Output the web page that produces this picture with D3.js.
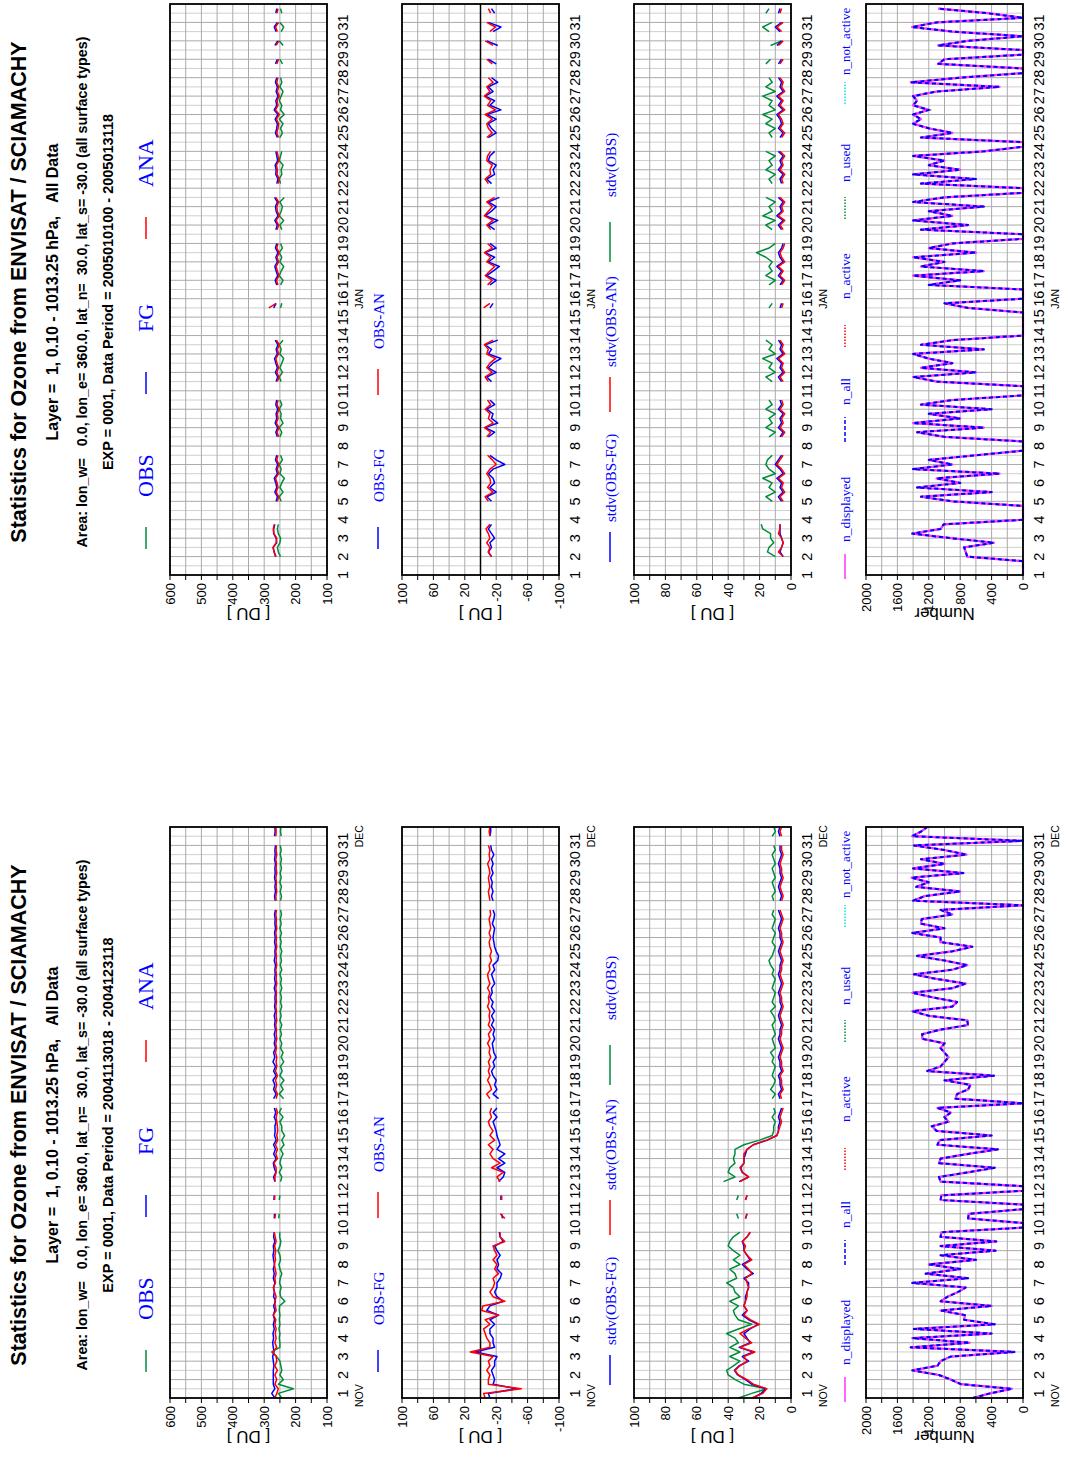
<!DOCTYPE html>
<html lang="en">
<head>
<meta charset="UTF-8">
<title>Statistics for Ozone from ENVISAT / SCIAMACHY</title>
<script src="https://d3js.org/d3.v7.min.js"></script>
<style>
  html, body { margin: 0; padding: 0; background: #fff; }
  svg text { font-family: 'Liberation Sans', Arial, sans-serif; white-space: pre; }
  svg text.serif { font-family: 'Liberation Serif', 'Times New Roman', serif; }
</style>
</head>
<body>
<div id="chart"></div>
<script>
var _ = null;   // missing 6-hourly step

// ---------- NOV/DEC 2004 page, 6-hourly 2004113018 .. 2004123118 (125 steps) ----------
var novObs = [244,255,207,255,239,250,244,247,250,260, 276,250,250,252,250,253,250,252,250,252,
  251,234,248,250,246,251,249,244,250,253, 248,250,256,250,247,251,250,_,_,254,
  252,_,_,252,250,_,_,248,244,252, 244,250,247,240,248,237,244,235,244,244,
  250,240,252,245,_,238,252,240,248,237, 250,243,248,238,246,240,248,244,250,245,
  249,244,250,246,249,244,248,245,249,244, 248,245,250,244,249,245,248,244,249,246,
  249,245,250,246,249,245,248,_,248,245, 249,245,250,246,249,245,248,245,249,246,
  249,_,246,248,247];
var novFg = [266,276,266,271,271,271,271,269,271,273, 269,271,273,270,272,268,271,267,271,266,
  270,264,270,268,270,266,271,268,271,267, 270,272,269,271,266,270,268,_,_,268,
  267,_,_,269,268,_,_,266,270,263, 268,271,262,270,264,270,262,267,265,266,
  262,268,263,268,_,270,262,270,266,272, 262,270,264,272,266,270,264,268,265,268,
  264,267,265,268,264,267,265,266,264,268, 264,267,265,266,264,268,265,266,264,267,
  265,267,264,266,265,267,264,_,265,267, 264,266,264,267,265,266,264,267,265,266,
  264,_,267,265,266];
var novAna = [266,260,255,266,260,266,258,266,260,262, 273,260,266,262,265,262,266,263,271,262,
  265,266,262,267,271,264,266,262,265,268, 264,266,263,267,262,265,268,_,_,266,
  264,_,_,267,266,_,_,265,266,262, 262,269,258,263,258,264,257,260,257,258,
  260,262,258,262,_,262,258,264,260,264, 258,264,260,262,260,264,261,263,260,262,
  261,263,260,262,261,263,261,262,261,263, 260,262,261,263,260,262,261,263,260,262,
  261,263,260,262,261,263,261,_,262,263, 260,262,261,263,260,262,261,263,260,262,
  261,_,263,262,263];
var novObsFg = [-12,-10,-46,-16,-18,-16,-14,-18,-18,-21, 7,-18,-16,-16,-12,-12,-18,-12,-23,-8,
  -12,-29,-21,-18,-21,-21,-25,-27,-21,-23, -21,-25,-21,-18,-29,-25,-24,_,_,-28,
  -27,_,_,-26,-26,_,_,-23,-29,-31, -21,-31,-23,-31,-21,-25,-23,-21,-20,-18,
  -16,-21,-16,-21,_,-23,-16,-21,-18,-20, -16,-14,-18,-16,-20,-17,-16,-15,-18,-16,
  -18,-14,-17,-14,-18,-14,-16,-12,-15,-14, -18,-16,-14,-18,-16,-22,-23,-20,-18,-17,
  -16,-17,-18,-15,-17,-18,-16,_,-16,-14, -16,-14,-15,-13,-16,-14,-16,-14,-17,-14,
  -13,_,-12,-13,-13];
var novObsAn = [-6,-4,-52,-10,-10,-12,-8,-12,-10,-16, 13,-12,-12,-8,-6,-4,-12,-6,-23,-1.5,
  -3,-31,-16,-12,-16,-18,-16,-23,-18,-21, -16,-21,-18,-16,-31,-25,-25,_,_,-31,
  -25,_,_,-27,-27,_,_,-25,-21,-29, -14,-25,-16,-12,-16,-10,-18,-12,-16,-12,
  -10,-14,-12,-14,_,-12,-8,-14,-12,-9, -12,-10,-12,-10,-13,-11,-12,-9,-12,-10,
  -14,-10,-12,-11,-12,-9,-11,-10,-12,-9, -12,-10,-9,-12,-11,-14,-12,-14,-12,-11,
  -13,-11,-13,-12,-11,-13,-12,_,-12,-11, -10,-12,-11,-10,-12,-11,-9,-12,-11,-12,
  -10,_,-12,-11,-12];
var novSdObsFg = [24,19,16,25,29,34,36,33,27,31, 24,33,26,28,30,26,21,27,31,28,
  30,29,29,28,27,27,30,24,28,31, 26,28,30,30,31,28,26,_,_,29,
  28,_,_,29,28,_,_,33,27,31, 32,30,30,29,28,24,15,9,8,8,
  7,8,7,6,_,7,8,6,7,7, 8,6,7,7,8,7,6,7,8,7,
  7,6,7,8,7,6,7,7,8,7, 6,7,8,7,7,6,7,8,7,6,
  7,7,8,7,6,7,8,_,7,6, 7,8,7,6,7,7,8,7,6,7,
  7,_,7,8,7];
var novSdObsAn = [25,18,15.5,24,28,33.5,35.7,32.5,28,30, 23,32.5,25,29,32.5,27,20,26,30,28,
  30,29,28,28,27,28,29,25,27,30, 25,28,30,29,31,28,26,_,_,29,
  28,_,_,29,28,_,_,32.5,27,31, 32.5,30,30,30,28,24,15.5,9,8,7,
  6,7,6,5,_,6,7,5,6,6, 7,5,6,6,7,6,5,6,7,6,
  6,5,6,7,6,5,6,6,7,6, 5,6,7,6,6,5,6,7,6,5,
  6,6,7,6,5,6,7,_,6,5, 6,7,6,5,6,6,7,6,5,6,
  6,_,6,7,6];
var novSdObs = [33.5,25,15.5,30,35.6,40,41,36.7,32.5,39, 32.5,39,33.5,35.7,41,33.5,25,33.5,35.7,36.7,
  33.5,39,32.5,35.7,36.7,41,34.6,35.7,39,32.5, 36.7,32.5,36.7,40,39,36.7,32.5,_,_,33.5,
  34.6,_,_,34.6,33.5,_,_,43,35.7,40, 39,35.7,36.7,35.7,35.7,30,20,12,11,11,
  10,12,10,11,_,12,10,13,11,10, 12,11,10,12,11,13,10,11,12,10,
  11,12,10,11,13,10,12,11,10,12, 11,10,12,11,13,14,12,11,10,12,
  11,10,12,11,10,12,11,_,11,12, 10,11,12,10,11,12,10,11,12,10,
  11,_,12,10,11];
var novCount = [640,420,140,790,920,1070,1410,1090,1050,920, 110,1430,680,1410,400,1390,360,750,740,1050,
  400,1050,960,830,730,1410,700,1240,800,1200, 600,1050,350,1050,340,1050,1040,0,0,700,
  690,0,0,1050,1040,0,0,1050,1070,700, 360,1070,1050,700,320,1090,1060,400,1100,1160,
  950,1000,920,1090,0,860,840,700,670,1000, 370,1220,1050,1000,950,1000,1050,1000,1280,1285,
  1050,700,710,1200,1410,900,840,1150,1410,900, 730,1100,1390,900,710,1000,1350,900,645,1050,
  1050,1410,1000,1300,1290,900,1050,0,1400,1250, 800,1360,1200,1420,760,1400,1000,1300,720,1000,
  1390,0,1413,1300,1220];

// ---------- JAN 2005 page, 6-hourly 2005010100 .. 2005013118 (124 steps) ----------
var janObs = [_,_,_,_, 248,255,258,250,248,255,258,255, _,_,_,_,
  246,252,240,250,244,236,250,246,252,242,248, _,_,_, 250,244,252,240,248,246,252,244,250, _,_,_,
  246,252,242,250,244,238,250,246,252,240, _,_,_,_,_,_, 248,244, _,_,_,
  248,240,252,246,238,250,244,252,242,248, _,_, 244,250,238,252,246,242,250,236, _,_,
  248,252,244,246,240,252,248,244, _,_, 250,242,248,240,252,236,248,244,252,246,240,250,244,248,
  _,_, 242,250, _,_, 240,252, _, 246,238,250, _, 244,248];
var janFg = [_,_,_,_, 264,268,272,260,262,270,270,266, _,_,_,_,
  262,258,266,260,263,268,258,262,257,264,260, _,_,_, 258,263,257,265,260,262,257,263,260, _,_,_,
  262,257,264,258,263,267,258,262,256,265, _,_,_,_,_,_, 270,262, _,_,_,
  260,265,257,262,266,258,263,256,264,260, _,_, 263,258,266,256,262,264,258,267, _,_,
  260,256,263,262,265,257,260,263, _,_, 258,264,260,258,265,256,268,260,263,256,262,258,264,260,
  _,_, 264,258, _,_, 266,257, _, 262,268,258, _, 263,260];
var janAna = [_,_,_,_, 262,269,271,262,260,269,271,268, _,_,_,_,
  258,254,262,256,259,264,254,258,253,260,256, _,_,_, 254,259,253,261,256,258,253,259,256, _,_,_,
  258,253,260,254,259,263,254,258,252,261, _,_,_,_,_,_, 285,262, _,_,_,
  256,261,253,258,262,254,259,252,260,256, _,_, 259,254,262,252,258,260,254,263, _,_,
  256,252,259,258,261,253,256,259, _,_, 254,260,256,254,261,252,264,256,259,252,258,254,260,256,
  _,_, 260,254, _,_, 262,253, _, 258,264,254, _, 259,256];
var janObsFg = [_,_,_,_, -14,-10,-14,-12,-18,-14,-10,-14, _,_,_,_,
  -14,-8,-20,-12,-18,-16,-10,-16,-31,-20,-12, _,_,_, -10,-18,-6,-22,-14,-16,-8,-18,-12, _,_,_,
  -14,-8,-20,-10,-16,-26,-10,-14,-6,-22, _,_,_,_,_,_, -12,-16, _,_,_,
  -12,-20,-8,-16,-24,-10,-18,-6,-20,-12, _,_, -18,-10,-22,-6,-14,-20,-10,-24, _,_,
  -14,-8,-18,-16,-20,-10,-12,-18, _,_, -10,-20,-14,-10,-20,-8,-26,-12,-18,-6,-16,-10,-22,-14,
  _,_, -20,-10, _,_, -22,-8, _, -16,-26,-10, _, -18,-14];
var janObsAn = [_,_,_,_, -14,-10,-12,-8,-12,-10,-7,-12, _,_,_,_,
  -10,-6,-16,-9,-13,-12,-8,-12,-20,-15,-9, _,_,_, -8,-13,-5,-16,-10,-12,-6,-13,-9, _,_,_,
  -10,-6,-15,-8,-12,-19,-8,-10,-5,-16, _,_,_,_,_,_, -4,-12, _,_,_,
  -9,-15,-6,-12,-18,-8,-13,-5,-15,-9, _,_, -13,-8,-16,-5,-10,-15,-8,-18, _,_,
  -10,-6,-13,-12,-15,-8,-9,-13, _,_, -8,-15,-10,-8,-15,-6,-19,-9,-13,-5,-12,-8,-16,-10,
  _,_, -15,-8, _,_, -16,-6, _, -12,-19,-8, _, -13,-10];
var janSdObsFg = [_,_,_,_, 5,7,6,5,6,7,7,7, _,_,_,_,
  6,8,5,7,6,9,5,7,10,8,6, _,_,_, 7,5,8,6,7,5,8,6,7, _,_,_,
  6,8,5,7,6,9,5,7,6,8, _,_,_,_,_,_, 7,6, _,_,_,
  7,5,8,6,9,5,7,8,6,5, _,_, 6,8,5,9,6,7,5,8, _,_,
  6,7,5,8,6,7,5,8, _,_, 7,5,8,6,7,9,5,8,6,9,5,7,6,8,
  _,_, 8,6, _,_, 9,6, _, 7,10,6, _, 8,7];
var janSdObsAn = [_,_,_,_, 5,8,6,5,6,8,7,7, _,_,_,_,
  5,7,4,6,5,8,4,6,9,7,5, _,_,_, 6,4,7,5,6,4,7,5,6, _,_,_,
  5,7,4,6,5,8,4,6,5,7, _,_,_,_,_,_, 6,5, _,_,_,
  6,4,7,5,8,4,6,7,5,4, _,_, 5,7,4,8,5,6,4,7, _,_,
  5,6,4,7,5,6,4,7, _,_, 6,4,7,5,6,8,4,7,5,8,4,6,5,7,
  _,_, 7,5, _,_, 8,5, _, 6,9,5, _, 7,6];
var janSdObs = [_,_,_,_, 10,15,14,11,13,13,18,19, _,_,_,_,
  12,16,10,14,12,18,10,14,16,15,12, _,_,_, 14,10,16,12,14,10,16,12,14, _,_,_,
  12,16,10,14,12,18,10,14,12,16, _,_,_,_,_,_, 14,12, _,_,_,
  14,10,16,12,14,12,16,22,14,10, _,_, 12,16,10,18,12,14,10,16, _,_,
  12,14,10,16,12,14,10,16, _,_, 12,14,10,16,12,18,10,14,12,18,10,16,12,14,
  _,_, 16,13, _,_, 13,6, _, 14,18,12, _, 16,14];
var janCount = [0,0,0,0, 710,730,750,370,920,1410,1050,1010, 0,0,0,0,
  900,1300,400,1350,800,1100,300,1400,900,1200,600, 0,0,0, 1000,1350,500,1400,800,1200,400,1300,900, 0,0,0,
  1100,1400,600,1300,900,1200,1400,500,1300,900, 0,0,0,0,0,0, 700,1000, 0,0,0,
  1200,800,1400,500,1300,1000,1400,600,1200,900, 0,0, 1300,700,1400,900,1200,500,1400,1000, 0,0,
  1300,600,1400,800,1200,1000,1400,500, 0,0, 1300,900,1200,1400,1300,1400,1200,1400,1350,1400,1100,300,1430,800,
  0,0, 1080,1000, 0,0, 1080,700, 0, 900,1414,1100, 0, 450,1080];

// ---------- axes ----------
var dayLabels = d3.range(1, 32);
var panelRanges = [[100, 600], [-100, 100], [0, 100], [0, 2000]];
var panelTicks = [[100, 200, 300, 400, 500, 600], [-100, -60, -20, 20, 60, 100],
                  [0, 20, 40, 60, 80, 100], [0, 400, 800, 1200, 1600, 2000]];
var panelGrid = [50, 20, 10, 200];
var panelUnits = ['[ DU ]', '[ DU ]', '[ DU ]', 'Number'];

var pages = [
  { off: 0, dayIndex: function(d) { return 4 * d - 3; },
    months: [['NOV', 0.5], ['DEC', 122]],
    period: 'EXP = 0001, Data Period = 2004113018 - 2004123118',
    series: [[novObs, novFg, novAna], [novObsFg, novObsAn], [novSdObs, novSdObsFg, novSdObsAn], [novCount]] },
  { off: 823, dayIndex: function(d) { return 4 * (d - 1); },
    months: [['JAN', 60]],
    period: 'EXP = 0001, Data Period = 2005010100 - 2005013118',
    series: [[janObs, janFg, janAna], [janObsFg, janObsAn], [janSdObs, janSdObsFg, janSdObsAn], [janCount]] }
];

var GREEN = '#008c3c', BLUE = '#0000ff', RED = '#ff0000', MAGENTA = '#ff33ff', CYAN = '#00e5e5';
var panelStyles = [
  [{c: GREEN}, {c: BLUE}, {c: RED}],
  [{c: BLUE}, {c: RED}],
  [{c: GREEN}, {c: BLUE}, {c: RED}]
];

var W = 1068, H = 1457;
var svg = d3.select('#chart').append('svg').attr('width', W).attr('height', H);

// the plot sheet is laid out in landscape and then turned a quarter to the left
var sheet = svg.append('g').attr('transform', 'translate(0,' + H + ') rotate(-90)');

var panelTop = 170, panelStep = 232, panelH = 157;

function legendLine(g, u0, u1, v, color, dash) {
  g.append('line').attr('x1', u0).attr('x2', u1).attr('y1', v).attr('y2', v)
    .attr('stroke', color).attr('stroke-width', 1.5)
    .attr('stroke-dasharray', dash || null);
}
function legendText(g, u, v, txt, size) {
  g.append('text').attr('class', 'serif').attr('x', u).attr('y', v)
    .attr('font-size', size).attr('fill', BLUE).text(txt);
}

function drawPage(pg) {
  var o = pg.off;
  var g = sheet.append('g');
  var x = d3.scaleLinear().domain([0, 124]).range([o + 59, o + 630]);

  // headings
  var mid = o + 342;
  g.append('text').attr('x', mid).attr('y', 26).attr('text-anchor', 'middle')
    .attr('font-size', 21.5).attr('font-weight', 'bold')
    .text('Statistics for Ozone from ENVISAT / SCIAMACHY');
  g.append('text').attr('x', mid).attr('y', 58).attr('text-anchor', 'middle')
    .attr('font-size', 16).attr('font-weight', 'bold')
    .text('Layer =  1, 0.10 - 1013.25 hPa,   All Data');
  g.append('text').attr('x', mid).attr('y', 87).attr('text-anchor', 'middle')
    .attr('font-size', 14.3).attr('font-weight', 'bold')
    .text('Area: lon_w=   0.0, lon_e= 360.0, lat_n=  30.0, lat_s= -30.0 (all surface types)');
  g.append('text').attr('x', mid).attr('y', 113).attr('text-anchor', 'middle')
    .attr('font-size', 14.5).attr('font-weight', 'bold')
    .text(pg.period);

  // legends
  legendLine(g, o + 85, o + 107, 146, GREEN);
  legendText(g, o + 137, 153, 'OBS', 22);
  legendLine(g, o + 240, o + 262, 146, BLUE);
  legendText(g, o + 302, 153, 'FG', 22);
  legendLine(g, o + 395, o + 417, 146, RED);
  legendText(g, o + 447, 153, 'ANA', 22);

  legendLine(g, o + 85, o + 107, 378, BLUE);
  legendText(g, o + 132, 384, 'OBS-FG', 15);
  legendLine(g, o + 239, o + 265, 378, RED);
  legendText(g, o + 285, 384, 'OBS-AN', 15);

  legendLine(g, o + 72, o + 102, 610, BLUE);
  legendText(g, o + 112, 616, 'stdv(OBS-FG)', 15);
  legendLine(g, o + 222, o + 257, 610, RED);
  legendText(g, o + 267, 616, 'stdv(OBS-AN)', 15);
  legendLine(g, o + 372, o + 412, 610, GREEN);
  legendText(g, o + 437, 616, 'stdv(OBS)', 15);

  legendLine(g, o + 55, o + 80, 845, MAGENTA);
  legendText(g, o + 92, 850, 'n_displayed', 13.5);
  legendLine(g, o + 192, o + 217, 845, BLUE, '4,2');
  legendText(g, o + 229, 850, 'n_all', 13.5);
  legendLine(g, o + 287, o + 309, 845, RED, '1.5,1.5');
  legendText(g, o + 335, 850, 'n_active', 13.5);
  legendLine(g, o + 415, o + 437, 845, GREEN, '1.5,1.5');
  legendText(g, o + 452, 850, 'n_used', 13.5);
  legendLine(g, o + 530, o + 552, 845, CYAN, '1.5,1.5');
  legendText(g, o + 559, 850, 'n_not_active', 13);

  panelRanges.forEach(function(dom, k) {
    var top = panelTop + panelStep * k;
    var y = d3.scaleLinear().domain(dom).range([top + panelH, top]);
    var p = g.append('g');

    // time grid, every 12 hours
    p.selectAll('.tgrid').data(d3.range(2, 124, 2)).join('line')
      .attr('x1', function(i) { return x(i); }).attr('x2', function(i) { return x(i); })
      .attr('y1', top).attr('y2', top + panelH)
      .attr('stroke', function(i) { return i % 4 === 0 ? '#aaaaaa' : '#cfcfcf'; })
      .attr('stroke-width', 1);

    // value grid
    var gv = d3.range(dom[0], dom[1] + 0.001, panelGrid[k]);
    p.selectAll('.vgrid').data(gv).join('line')
      .attr('x1', x(0)).attr('x2', x(124))
      .attr('y1', function(d) { return y(d); }).attr('y2', function(d) { return y(d); })
      .attr('stroke', '#aaaaaa').attr('stroke-width', 1);

    if (k === 1) {
      p.append('line').attr('x1', x(0)).attr('x2', x(124))
        .attr('y1', y(0)).attr('y2', y(0)).attr('stroke', '#000').attr('stroke-width', 1.5);
    }

    var line = d3.line()
      .defined(function(d) { return d !== null; })
      .x(function(d, i) { return x(i); })
      .y(function(d) { return y(d); });

    if (k < 3) {
      pg.series[k].forEach(function(s, j) {
        p.append('path').attr('d', line(s)).attr('fill', 'none')
          .attr('stroke', panelStyles[k][j].c).attr('stroke-width', 1.5)
          .attr('stroke-linejoin', 'round');
      });
    } else {
      var cnt = pg.series[3][0];
      var zeros = cnt.map(function() { return 0; });
      p.append('path').attr('d', line(zeros)).attr('fill', 'none')
        .attr('stroke', CYAN).attr('stroke-width', 1.5).attr('stroke-dasharray', '1.5,1.5');
      p.append('path').attr('d', line(cnt)).attr('fill', 'none')
        .attr('stroke', GREEN).attr('stroke-width', 2).attr('stroke-dasharray', '1.5,1.5');
      p.append('path').attr('d', line(cnt)).attr('fill', 'none')
        .attr('stroke', MAGENTA).attr('stroke-width', 2.2).attr('stroke-linejoin', 'round');
      p.append('path').attr('d', line(cnt)).attr('fill', 'none')
        .attr('stroke', BLUE).attr('stroke-width', 2).attr('stroke-dasharray', '4,3')
        .attr('stroke-linejoin', 'round');
    }

    // frame
    p.append('rect').attr('x', x(0)).attr('y', top).attr('width', x(124) - x(0)).attr('height', panelH)
      .attr('fill', 'none').attr('stroke', '#000').attr('stroke-width', 1.8);

    // value ticks and labels
    p.selectAll('.vtick').data(gv).join('line')
      .attr('x1', x(0) - 5).attr('x2', x(0))
      .attr('y1', function(d) { return y(d); }).attr('y2', function(d) { return y(d); })
      .attr('stroke', '#000').attr('stroke-width', 1);
    p.selectAll('.vlab').data(panelTicks[k]).join('text')
      .attr('x', x(0) - 8).attr('y', function(d) { return y(d); })
      .attr('dy', '0.35em').attr('text-anchor', 'end').attr('font-size', 13)
      .text(function(d) { return d; });

    p.append('text')
      .attr('transform', 'translate(' + (o + 26) + ',' + (top + panelH / 2) + ') rotate(-90)')
      .attr('text-anchor', 'middle').attr('font-size', 17)
      .text(panelUnits[k]);

    // day labels and months
    p.selectAll('.dlab').data(dayLabels).join('text')
      .attr('x', function(d) { return x(pg.dayIndex(d)); }).attr('y', top + panelH + 21)
      .attr('text-anchor', 'middle').attr('font-size', 14.5)
      .text(function(d) { return d; });
    p.selectAll('.mlab').data(pg.months).join('text')
      .attr('x', function(m) { return x(m[1]); }).attr('y', top + panelH + 36)
      .attr('text-anchor', 'middle').attr('font-size', 10.5)
      .text(function(m) { return m[0]; });
  });
}

pages.forEach(drawPage);
</script>
</body>
</html>
